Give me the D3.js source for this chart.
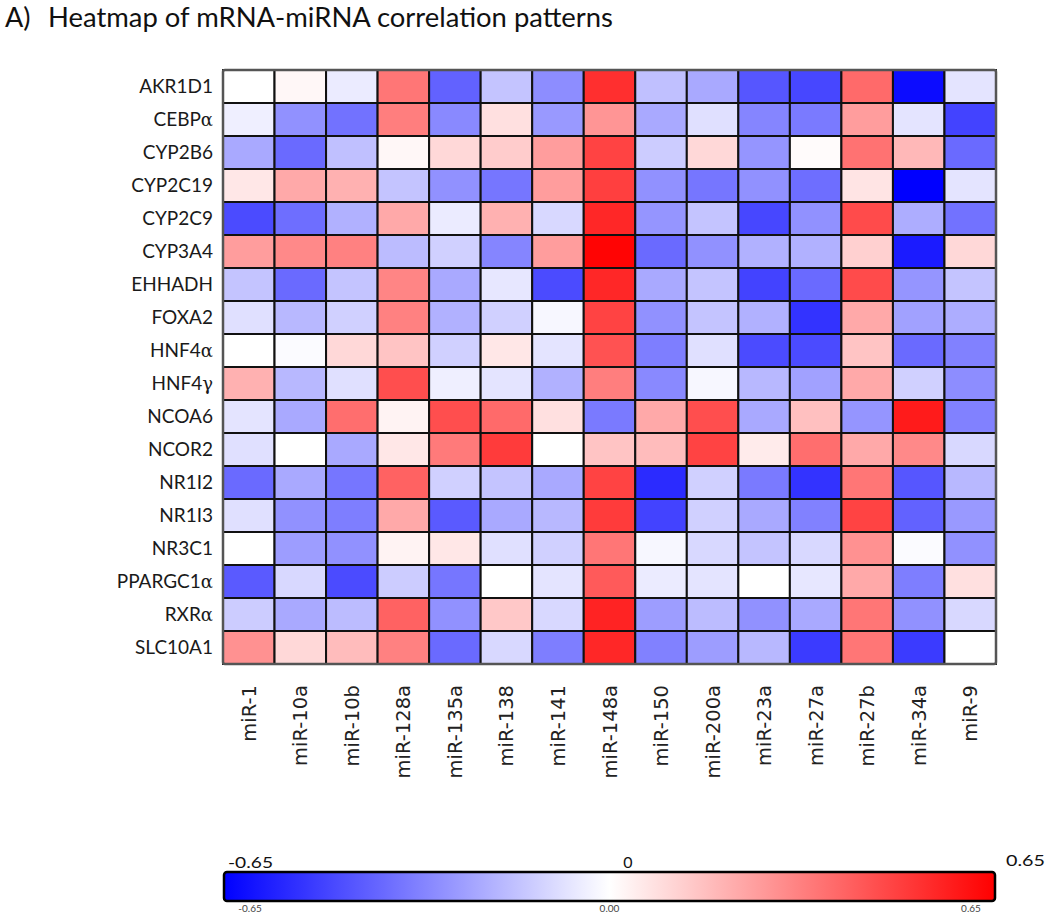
<!DOCTYPE html>
<html>
<head>
<meta charset="utf-8">
<script src="https://cdn.jsdelivr.net/npm/d3@7"></script>
<style>
  html, body { margin: 0; padding: 0; background: #fff; }
  svg { display: block; }
</style>
</head>
<body>
<svg id="chart" width="1050" height="915"></svg>
<script>
const title = "Heatmap of mRNA-miRNA correlation patterns";
const panelLabel = "A)";

const genes = ["AKR1D1","CEBPα","CYP2B6","CYP2C19","CYP2C9","CYP3A4","EHHADH","FOXA2","HNF4α","HNF4γ","NCOA6","NCOR2","NR1I2","NR1I3","NR3C1","PPARGC1α","RXRα","SLC10A1"];
const mirnas = ["miR-1","miR-10a","miR-10b","miR-128a","miR-135a","miR-138","miR-141","miR-148a","miR-150","miR-200a","miR-23a","miR-27a","miR-27b","miR-34a","miR-9"];

// correlation values, one array per gene (columns in mirnas order)
const AKR1D1   = [ 0.00, 0.02,-0.05, 0.35,-0.40,-0.15,-0.29, 0.53,-0.16,-0.22,-0.43,-0.47, 0.38,-0.62,-0.07];
const CEBPa    = [-0.04,-0.28,-0.36, 0.33,-0.30, 0.08,-0.26, 0.27,-0.22,-0.08,-0.31,-0.34, 0.25,-0.07,-0.48];
const CYP2B6   = [-0.22,-0.38,-0.16, 0.02, 0.10, 0.13, 0.25, 0.48,-0.13, 0.10,-0.27, 0.01, 0.36, 0.18,-0.38];
const CYP2C19  = [ 0.06, 0.22, 0.20,-0.15,-0.28,-0.35, 0.25, 0.49,-0.28,-0.35,-0.28,-0.37, 0.07,-0.65,-0.07];
const CYP2C9   = [-0.46,-0.37,-0.20, 0.22,-0.05, 0.20,-0.10, 0.55,-0.27,-0.15,-0.47,-0.28, 0.46,-0.21,-0.36];
const CYP3A4   = [ 0.25, 0.30, 0.32,-0.17,-0.12,-0.31, 0.25, 0.64,-0.38,-0.28,-0.20,-0.20, 0.12,-0.58, 0.10];
const EHHADH   = [-0.15,-0.38,-0.15, 0.31,-0.22,-0.06,-0.46, 0.55,-0.22,-0.15,-0.48,-0.38, 0.46,-0.27,-0.15];
const FOXA2    = [-0.08,-0.18,-0.12, 0.32,-0.20,-0.12,-0.02, 0.48,-0.28,-0.15,-0.20,-0.52, 0.22,-0.24,-0.21];
const HNF4a    = [ 0.00,-0.01, 0.10, 0.15,-0.12, 0.06,-0.07, 0.44,-0.33,-0.08,-0.46,-0.46, 0.15,-0.38,-0.32];
const HNF4g    = [ 0.20,-0.18,-0.08, 0.45,-0.04,-0.07,-0.20, 0.33,-0.30,-0.02,-0.18,-0.24, 0.22,-0.12,-0.29];
const NCOA6    = [-0.07,-0.22, 0.37, 0.03, 0.45, 0.38, 0.08,-0.34, 0.22, 0.45,-0.22, 0.16,-0.27, 0.58,-0.32];
const NCOR2    = [-0.08, 0.00,-0.22, 0.06, 0.34, 0.50, 0.00, 0.15, 0.17, 0.48, 0.05, 0.37, 0.22, 0.30,-0.10];
const NR1I2    = [-0.38,-0.22,-0.35, 0.40,-0.12,-0.15,-0.22, 0.48,-0.54,-0.12,-0.34,-0.52, 0.35,-0.43,-0.18];
const NR1I3    = [-0.08,-0.28,-0.33, 0.22,-0.42,-0.22,-0.18, 0.50,-0.48,-0.12,-0.22,-0.32, 0.48,-0.40,-0.26];
const NR3C1    = [ 0.00,-0.25,-0.28, 0.03, 0.06,-0.08,-0.12, 0.35,-0.02,-0.10,-0.15,-0.10, 0.28,-0.01,-0.28];
const PPARGC1a = [-0.42,-0.10,-0.46,-0.13,-0.35, 0.00,-0.07, 0.42,-0.05,-0.07, 0.00,-0.06, 0.22,-0.33, 0.08];
const RXRa     = [-0.13,-0.22,-0.17, 0.40,-0.28, 0.14,-0.10, 0.56,-0.25,-0.17,-0.28,-0.22, 0.35,-0.28,-0.10];
const SLC10A1  = [ 0.28, 0.10, 0.17, 0.32,-0.38,-0.10,-0.33, 0.55,-0.32,-0.25,-0.18,-0.50, 0.35,-0.50, 0.00];

const rowsData = [AKR1D1,CEBPa,CYP2B6,CYP2C19,CYP2C9,CYP3A4,EHHADH,FOXA2,HNF4a,HNF4g,NCOA6,NCOR2,NR1I2,NR1I3,NR3C1,PPARGC1a,RXRa,SLC10A1];

const legendMin = -0.65, legendMid = 0, legendMax = 0.65;
const legendTopLabels = ["-0.65","0","0.65"];
const legendBottomLabels = ["-0.65","0.00","0.65"];

const svg = d3.select("#chart");
const labelFont = "Lato, 'Open Sans', sans-serif";

// Title
svg.append("text").attr("x", 5).attr("y", 27)
  .style("font-family", labelFont).style("font-size", "27px").attr("fill", "#111")
  .text(panelLabel);
svg.append("text").attr("x", 48).attr("y", 27)
  .style("font-family", labelFont).style("font-size", "27px").attr("fill", "#111")
  .attr("textLength", 565).attr("lengthAdjust", "spacingAndGlyphs")
  .text(title);

// Scales
const x = d3.scaleBand().domain(mirnas).range([223, 996]).padding(0);
const y = d3.scaleBand().domain(genes).range([70, 664]).padding(0);
const color = d3.scaleLinear().domain([legendMin, legendMid, legendMax])
  .range(["#0000ff", "#ffffff", "#ff0000"]).clamp(true);

const cells = [];
genes.forEach((g, i) => mirnas.forEach((m, j) => cells.push({g, m, v: rowsData[i][j]})));

svg.append("g").selectAll("rect").data(cells).join("rect")
  .attr("x", d => x(d.m)).attr("y", d => y(d.g))
  .attr("width", x.bandwidth()).attr("height", y.bandwidth())
  .attr("fill", d => color(d.v))
  .attr("stroke", "#111").attr("stroke-width", 2);

// outer border
svg.append("rect").attr("x", 223).attr("y", 70)
  .attr("width", x.range()[1] - x.range()[0]).attr("height", y.range()[1] - y.range()[0])
  .attr("fill", "none").attr("stroke", "#555").attr("stroke-width", 2.5).attr("rx", 2);

// Row labels (axis)
const yAxis = d3.axisLeft(y).tickSize(0).tickPadding(0);
const gy = svg.append("g").attr("transform", "translate(213,0)").call(yAxis);
gy.select(".domain").remove();
gy.selectAll("text")
  .style("font-family", labelFont).style("font-size", "19px").attr("fill", "#1a1a1a")
  .attr("dy", "0.36em")
  .each(function(d) {
    const t = d3.select(this);
    const m = d.match(/^(.*?)([αγ])$/);
    if (m) {
      t.text(null);
      t.append("tspan").text(m[1]);
      t.append("tspan").style("font-family", "'DejaVu Serif', 'Liberation Serif', serif")
        .style("font-size", "18px").text(m[2]);
    }
  });

// Column labels (axis)
const xAxis = d3.axisBottom(x).tickSize(0).tickPadding(0);
const gx = svg.append("g").attr("transform", "translate(0,685)").call(xAxis);
gx.select(".domain").remove();
gx.selectAll("text")
  .style("font-family", "'DejaVu Sans', Verdana, sans-serif").style("font-size", "19.5px").attr("fill", "#222")
  .attr("transform", "rotate(-90)")
  .attr("text-anchor", "end")
  .attr("x", 0).attr("y", 0).attr("dy", "0.36em")
  .attr("dx", 0);

// Legend
const lx = d3.scaleLinear().domain([legendMin, legendMax]).range([224, 995]);
const defs = svg.append("defs");
const grad = defs.append("linearGradient").attr("id", "lg").attr("x1", "0%").attr("x2", "100%");
d3.range(0, 1.0001, 0.05).forEach(t => {
  grad.append("stop").attr("offset", (t * 100) + "%")
    .attr("stop-color", color(legendMin + t * (legendMax - legendMin)));
});
svg.append("rect").attr("x", lx(legendMin)).attr("y", 872)
  .attr("width", lx(legendMax) - lx(legendMin)).attr("height", 29)
  .attr("rx", 3).attr("fill", "url(#lg)")
  .attr("stroke", "#000").attr("stroke-width", 2.5);

const topPos = [228, 628, 1006];
const topW = [45, null, 39];
svg.append("g").selectAll("text").data(legendTopLabels).join("text")
  .attr("x", (d, i) => topPos[i]).attr("y", (d, i) => i === 2 ? 866 : 868)
  .attr("text-anchor", (d, i) => i === 1 ? "middle" : "start")
  .style("font-family", labelFont).style("font-size", "16px").attr("fill", "#111")
  .each(function(d, i) { if (topW[i]) d3.select(this).attr("textLength", topW[i]).attr("lengthAdjust", "spacingAndGlyphs"); })
  .text(d => d);

// small lower labels under the bar
const botPos = [lx(legendMin) + 26, lx(legendMid), lx(legendMax) - 24];
svg.append("g").selectAll("text").data(legendBottomLabels).join("text")
  .attr("x", (d, i) => botPos[i]).attr("y", 912)
  .attr("text-anchor", "middle")
  .style("font-family", labelFont).style("font-size", "10px").attr("fill", "#444")
  .text(d => d);
</script>
</body>
</html>
